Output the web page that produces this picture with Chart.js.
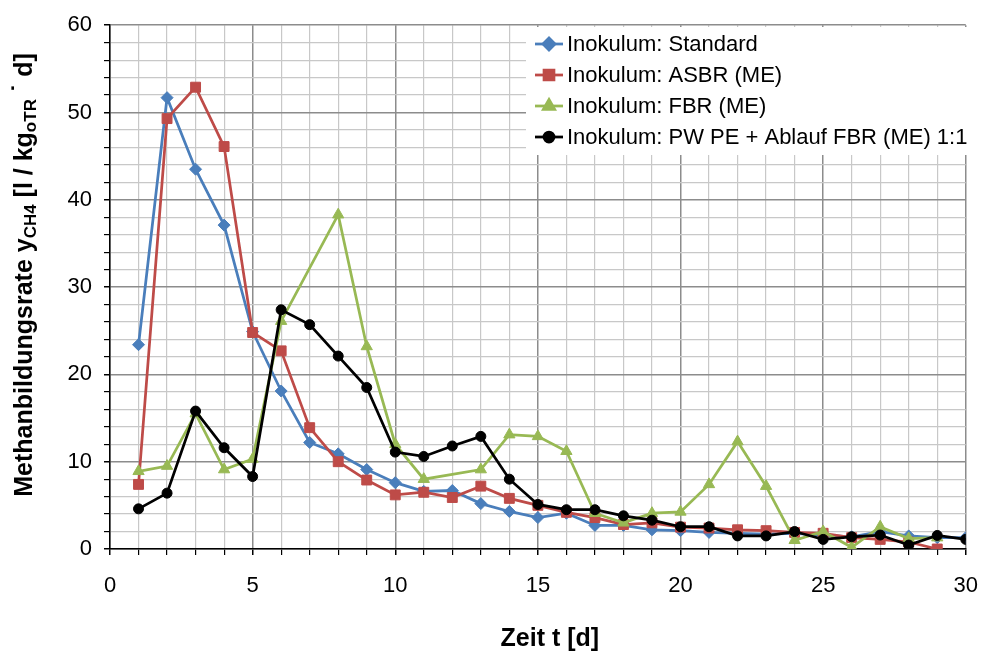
<!DOCTYPE html>
<html>
<head>
<meta charset="utf-8">
<script src="https://cdn.jsdelivr.net/npm/chart.js@4/dist/chart.umd.min.js"></script>
<style>
  html, body { margin: 0; padding: 0; background: #fff; }
  #wrap { width: 996px; height: 656px; }
</style>
</head>
<body>
<div id="wrap"><canvas id="c" width="996" height="656"></canvas></div>
<script>
const days = [1,2,3,4,5,6,7,8,9,10,11,12,13,14,15,16,17,18,19,20,21,22,23,24,25,26,27,28,29,30];
const seriesNames = [
  'Inokulum: Standard',
  'Inokulum: ASBR (ME)',
  'Inokulum: FBR (ME)',
  'Inokulum: PW PE + Ablauf FBR (ME) 1:1'
];
const standard = [23.4, 51.7, 43.5, 37.1, 24.9, 18.1, 12.2, 10.9, 9.1, 7.6, 6.6, 6.7, 5.2, 4.3, 3.6, 4.1, 2.7, 2.7, 2.2, 2.1, 1.9, 1.8, 1.7, 1.8, 1.6, 1.4, 2.0, 1.5, 1.3, 1.3];
const asbr = [7.4, 49.3, 52.9, 46.1, 24.8, 22.7, 13.9, 10.0, 7.9, 6.2, 6.5, 5.9, 7.2, 5.8, 5.0, 4.2, 3.6, 2.8, 3.0, 2.5, 2.4, 2.2, 2.1, 1.9, 1.8, 1.3, 1.1, 0.8, 0.0, null];
const fbr = [8.9, 9.5, 15.5, 9.1, 10.3, 26.1, null, 38.3, 23.2, 12.0, 8.0, null, 9.1, 13.1, 12.9, 11.2, 4.1, 3.0, 4.1, 4.25, 7.4, 12.3, 7.2, 1.0, 2.0, 0.2, 2.55, 1.2, 1.3, null];
const pwpe = [4.6, 6.4, 15.8, 11.6, 8.3, 27.4, 25.7, 22.1, 18.5, 11.1, 10.6, 11.8, 12.9, 8.0, 5.1, 4.5, 4.5, 3.8, 3.3, 2.55, 2.55, 1.5, 1.5, 2.0, 1.1, 1.4, 1.6, 0.45, 1.55, 1.1];
const xTickLabels = ['0', '5', '10', '15', '20', '25', '30'];
const yTickLabels = ['0', '10', '20', '30', '40', '50', '60'];
const xTitle = 'Zeit t [d]';

const colors = ['#4a7ebb', '#be4b48', '#98b954', '#000000'];
const styles = ['rectRot', 'rect', 'triangle', 'circle'];
const radii = [6, 7, 6.5, 5];
const allValues = [standard, asbr, fbr, pwpe];

function pts(vals) { return days.map((d, i) => ({ x: d, y: vals[i] })); }

const FONT = '"Liberation Sans", Arial, Helvetica, sans-serif';

const datasets = allValues.map((vals, i) => ({
  label: seriesNames[i],
  data: pts(vals),
  borderColor: colors[i],
  backgroundColor: colors[i],
  pointBackgroundColor: colors[i],
  pointBorderColor: colors[i],
  pointBorderWidth: 1,
  pointStyle: styles[i],
  pointRadius: radii[i],
  borderWidth: 2.75,
  tension: 0,
  spanGaps: true,
  order: 3 - i
}));

const overlay = {
  id: 'overlay',
  afterDraw(chart) {
    const ctx = chart.ctx;
    const ca = chart.chartArea;
    ctx.save();
    // X title
    ctx.fillStyle = '#000';
    ctx.font = 'bold 25px ' + FONT;
    ctx.textAlign = 'center';
    ctx.textBaseline = 'middle';
    ctx.fillText(xTitle, (ca.left + ca.right) / 2 + 12, 639);

    // Y title with subscripts
    const parts = [
      { t: 'Methanbildungsrate y', s: 25, dy: 0 },
      { t: 'CH4', s: 17, dy: 6 },
      { t: ' [l / kg', s: 25, dy: 0 },
      { t: 'oTR', s: 17, dy: 6 },
      { t: ' \u02D9 ', s: 25, dy: -2 },
      { t: 'd]', s: 25, dy: 0 }
    ];
    let total = 0;
    parts.forEach(p => { ctx.font = 'bold ' + p.s + 'px ' + FONT; p.w = ctx.measureText(p.t).width; total += p.w; });
    ctx.translate(25, 275);
    ctx.rotate(-Math.PI / 2);
    ctx.textAlign = 'left';
    ctx.textBaseline = 'middle';
    let x = -total / 2;
    parts.forEach(p => {
      ctx.font = 'bold ' + p.s + 'px ' + FONT;
      ctx.fillText(p.t, x, p.dy);
      x += p.w;
    });
    ctx.restore();

    // Legend
    ctx.save();
    ctx.fillStyle = '#fff';
    ctx.fillRect(526, 27, 448, 128);
    const ys = [44, 75, 106, 137];
    ctx.font = '22px ' + FONT;
    ctx.textAlign = 'left';
    ctx.textBaseline = 'middle';
    seriesNames.forEach((name, i) => {
      const y = ys[i];
      ctx.strokeStyle = colors[i];
      ctx.lineWidth = 2.75;
      ctx.beginPath();
      ctx.moveTo(535, y);
      ctx.lineTo(563, y);
      ctx.stroke();
      ctx.fillStyle = colors[i];
      Chart.helpers.drawPoint(ctx, { pointStyle: styles[i], radius: radii[i], rotation: 0, borderWidth: 1 }, 549, y);
      ctx.fillStyle = '#000';
      ctx.fillText(name, 567, y + 1);
    });
    ctx.restore();
  }
};

new Chart(document.getElementById('c'), {
  type: 'line',
  data: { datasets },
  options: {
    responsive: false,
    animation: false,
    layout: { padding: { top: 23, right: 28, left: 0, bottom: 0 } },
    plugins: { legend: { display: false }, tooltip: { enabled: false } },
    scales: {
      x: {
        type: 'linear',
        min: 0, max: 30,
        afterFit(s) { s.height = 107; },
        ticks: {
          stepSize: 1,
          autoSkip: false,
          maxRotation: 0,
          padding: 18,
          color: '#000',
          font: { size: 22, family: FONT },
          callback: v => (v % 5 === 0 ? xTickLabels[v / 5] : '')
        },
        grid: {
          color: c => (c.tick && c.tick.value % 5 === 0 ? '#8c8c8c' : '#c8c8c8'),
          lineWidth: c => (c.tick && c.tick.value % 5 === 0 ? 1.5 : 1.2),
          tickColor: '#000',
          tickLength: 6
        },
        border: { color: '#000', width: 1.5 }
      },
      y: {
        min: 0, max: 60,
        afterFit(s) { s.width = 110; },
        ticks: {
          stepSize: 2,
          autoSkip: false,
          padding: 12,
          color: '#000',
          font: { size: 22, family: FONT },
          callback: v => (v % 10 === 0 ? yTickLabels[v / 10] : '')
        },
        grid: {
          color: c => (c.tick && c.tick.value % 10 === 0 ? '#8c8c8c' : '#c8c8c8'),
          lineWidth: c => (c.tick && c.tick.value % 10 === 0 ? 1.5 : 1.2),
          tickColor: '#000',
          tickLength: 6
        },
        border: { color: '#000', width: 1.5 }
      }
    }
  },
  plugins: [overlay]
});
</script>
</body>
</html>
